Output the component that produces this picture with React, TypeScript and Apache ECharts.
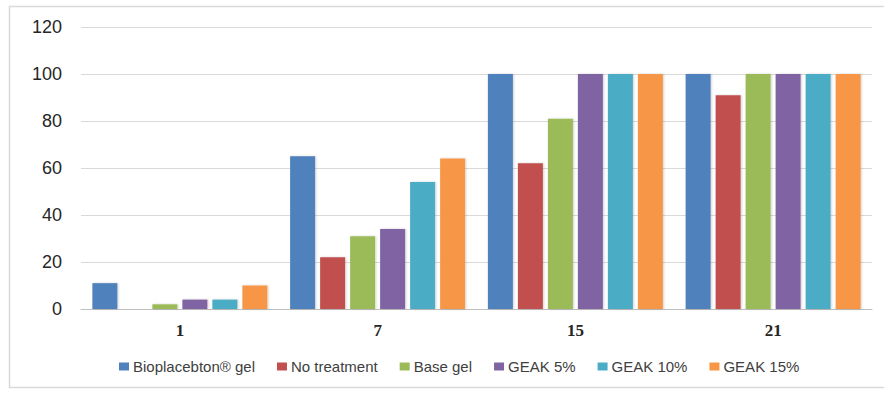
import React, { useEffect, useRef } from "react";
import * as echarts from "echarts";

const categories = ["1", "7", "15", "21"];
const seriesNames = ["Bioplacebton® gel", "No treatment", "Base gel", "GEAK 5%", "GEAK 10%", "GEAK 15%"];
const bioplacebton = [11, 65, 100, 100];
const noTreatment = [0, 22, 62, 91];
const baseGel = [2, 31, 81, 100];
const geak5 = [4, 34, 100, 100];
const geak10 = [4, 54, 100, 100];
const geak15 = [10, 64, 100, 100];
const yTicks = { min: 0, max: 120, interval: 20 };
const colors = ["#4F81BD", "#C0504D", "#9BBB59", "#8064A2", "#4BACC6", "#F79646"];

export default function App() {
  const ref = useRef<HTMLDivElement>(null);
  useEffect(() => {
    if (!ref.current) return;
    const chart = echarts.init(ref.current, undefined, { renderer: "svg" });
    const values = [bioplacebton, noTreatment, baseGel, geak5, geak10, geak15];
    chart.setOption({
      animation: false,
      backgroundColor: "#ffffff",
      graphic: [
        {
          type: "rect",
          shape: { x: 9.5, y: 6.5, width: 890, height: 381 },
          style: { fill: "none", stroke: "#d9d9d9", lineWidth: 1.5 },
          silent: true,
          z: -1,
        },
      ],
      grid: { left: 81, right: 12, top: 27, bottom: 84 },
      legend: {
        top: 354,
        left: 114,
        icon: "rect",
        itemWidth: 10,
        itemHeight: 8,
        itemGap: 22,
        textStyle: { fontFamily: "Liberation Sans, Arial, sans-serif", fontSize: 15, color: "#404040", padding: [0, 0, 0, -1] },
        data: seriesNames,
      },
      xAxis: {
        type: "category",
        data: categories,
        axisLine: { lineStyle: { color: "#bfbfbf", width: 1 } },
        axisTick: { show: false },
        axisLabel: {
          margin: 13,
          fontFamily: "Liberation Serif, Times New Roman, serif",
          fontWeight: "bold",
          fontSize: 17,
          color: "#262626",
        },
      },
      yAxis: {
        type: "value",
        min: yTicks.min,
        max: yTicks.max,
        interval: yTicks.interval,
        axisLine: { show: false },
        axisTick: { show: false },
        splitLine: { lineStyle: { color: "#d9d9d9", width: 1 } },
        axisLabel: {
          margin: 19,
          fontFamily: "Liberation Sans, Arial, sans-serif",
          fontSize: 18,
          color: "#262626",
        },
      },
      series: seriesNames.map((name, i) => ({
        name,
        type: "bar",
        data: values[i],
        barWidth: 25,
        barGap: "20%",
        itemStyle: {
          color: colors[i],
          shadowColor: "rgba(0,0,0,0.18)",
          shadowBlur: 2,
          shadowOffsetX: 1,
        },
      })),
    });
    return () => chart.dispose();
  }, []);
  return <div ref={ref} style={{ position: "fixed", left: 0, top: 0, width: 884, height: 393 }} />;
}
